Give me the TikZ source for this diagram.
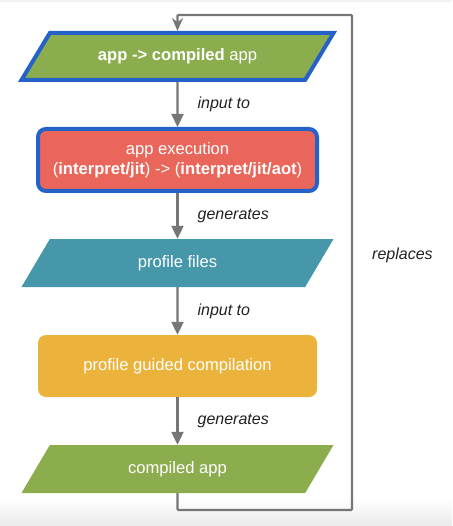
\documentclass[tikz,border=0pt]{standalone}
\usepackage{fontspec}
\setmainfont{Liberation Sans}
\usetikzlibrary{shapes.geometric,arrows.meta}

\definecolor{appgreen}{HTML}{8BAD4E}
\definecolor{execred}{HTML}{EB665A}
\definecolor{hiblue}{HTML}{2462C9}
\definecolor{profteal}{HTML}{4697A9}
\definecolor{pgoyellow}{HTML}{ECB33C}
\definecolor{flowgrey}{HTML}{767676}
\definecolor{lbltext}{HTML}{212121}

\tikzset{
  para/.style={trapezium, trapezium left angle=38, trapezium right angle=142,
    trapezium stretches body, minimum width=312pt, minimum height=48pt,
    text=white, font=\fontsize{16.6}{20}\selectfont},
  step box/.style={rounded corners=8pt, minimum width=279pt, minimum height=62pt,
    text=white, align=center, font=\fontsize{16.6}{20}\selectfont},
  marked/.style={draw=hiblue, line width=4pt},
  flow/.style={flowgrey, line width=2.2pt, -{Triangle[width=12pt,length=13pt]}},
  back/.style={flowgrey, line width=2.2pt, -{Stealth[width=11pt,length=13pt]}},
  lbl/.style={text=lbltext, font=\fontsize{16}{20}\selectfont\itshape, inner sep=0pt, anchor=west}
}

\begin{document}
\begin{tikzpicture}[x=1pt,y=-1pt]

  \useasboundingbox (0,0) rectangle (452,526);
  \shade[top color=white, bottom color=black!8] (0,498) rectangle (452,526);
  \fill[black!5] (0,0) rectangle (452,2);

  \node[para, marked, fill=appgreen, minimum height=47pt] (source) at (177.5,56.5)
    {\textbf{app -> compiled} app};
  \node[step box, marked, fill=execred] (exec) at (177.5,160)
    {app execution\\(\textbf{interpret/jit}) -> (\textbf{interpret/jit/aot})};
  \node[para, fill=profteal] (profile) at (177.5,263) {profile files};
  \node[step box, fill=pgoyellow] (pgo) at (177.5,366) {profile guided compilation};
  \node[para, fill=appgreen] (compiled) at (177.5,469) {compiled app};

  \draw[flow] (source) -- node[lbl, xshift=19pt] (l1) {input to} (exec);
  \draw[flow] (exec) -- node[lbl, xshift=19pt] (l2) {generates} (profile);
  \draw[flow] (profile) -- node[lbl, xshift=19pt] (l3) {input to} (pgo);
  \draw[flow] (pgo) -- node[lbl, xshift=19pt] (l4) {generates} (compiled);

  % feedback loop
  \draw[back, rounded corners=1pt] (compiled.south) |- (352,510) |- (177.5,15) -- (source.north);
  \node[lbl] (replaces) at (372,255) {replaces};

\end{tikzpicture}
\end{document}
